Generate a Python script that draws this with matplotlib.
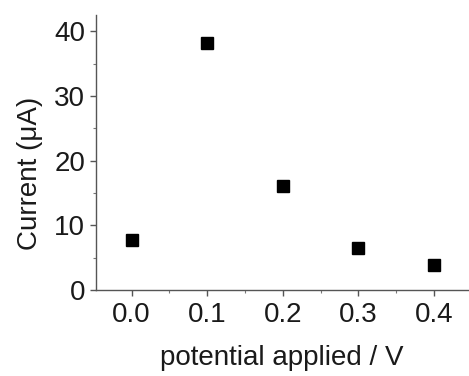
import matplotlib
matplotlib.use("Agg")
import matplotlib.pyplot as plt
from matplotlib.ticker import MultipleLocator

potential = [0.0, 0.1, 0.2, 0.3, 0.4]
current = [7.7, 38.1, 16.1, 6.5, 3.8]
x_ticks = [0.0, 0.1, 0.2, 0.3, 0.4]
x_tick_labels = ["0.0", "0.1", "0.2", "0.3", "0.4"]
y_ticks = [0, 10, 20, 30, 40]

plt.rcParams['font.family'] = ['Liberation Sans', 'DejaVu Sans']

fig = plt.figure(figsize=(4.69, 3.76), dpi=100)
ax = fig.add_axes([0.205, 0.229, 0.793, 0.731])

ax.plot(potential, current, linestyle='none', marker='s', markersize=9,
        color='black')

ax.set_xlim(-0.047, 0.445)
ax.set_ylim(0, 42.5)
ax.set_xticks(x_ticks)
ax.set_xticklabels(x_tick_labels)
ax.set_yticks(y_ticks)
ax.xaxis.set_minor_locator(MultipleLocator(0.05))
ax.yaxis.set_minor_locator(MultipleLocator(5))

for side in ('top', 'right'):
    ax.spines[side].set_visible(False)
for side in ('left', 'bottom'):
    ax.spines[side].set_color('#555555')
    ax.spines[side].set_linewidth(1.0)

ax.tick_params(which='major', direction='out', length=4, width=1,
               color='#555555', labelsize=20, labelcolor='#1a1a1a')
ax.tick_params(axis='x', which='major', pad=5)
ax.tick_params(axis='y', which='major', pad=4)
ax.tick_params(which='minor', direction='out', length=2.5, width=0.8,
               color='#777777')

ax.set_xlabel('potential applied / V', fontsize=20, color='#1a1a1a')
ax.set_ylabel('Current (\u03bcA)', fontsize=20, color='#1a1a1a')
ax.xaxis.set_label_coords(0.5, -0.20)
ax.yaxis.set_label_coords(-0.143, 0.425)

fig.savefig('out.png', dpi=100, facecolor='white')
